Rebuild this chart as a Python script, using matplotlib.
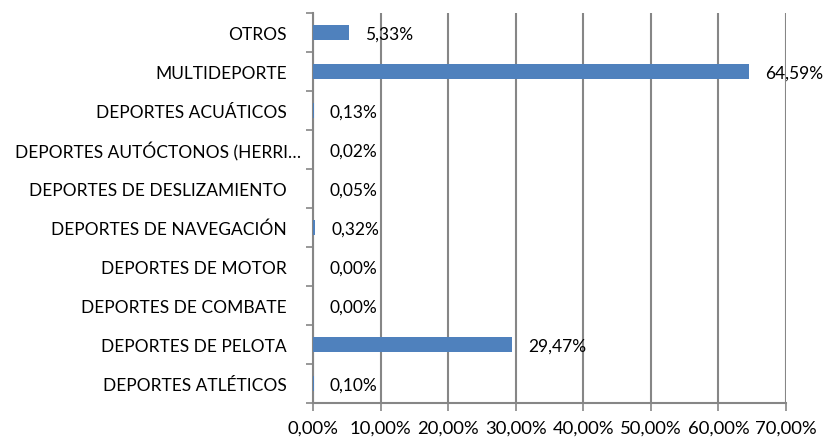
import matplotlib
matplotlib.use("Agg")
import matplotlib.pyplot as plt
import matplotlib.transforms as mtransforms
import numpy as np

categories = [
    "DEPORTES ATLÉTICOS",
    "DEPORTES DE PELOTA",
    "DEPORTES DE COMBATE",
    "DEPORTES DE MOTOR",
    "DEPORTES DE NAVEGACIÓN",
    "DEPORTES DE DESLIZAMIENTO",
    "DEPORTES AUTÓCTONOS (HERRI…",
    "DEPORTES ACUÁTICOS",
    "MULTIDEPORTE",
    "OTROS",
]
values = [0.10, 29.47, 0.00, 0.00, 0.32, 0.05, 0.02, 0.13, 64.59, 5.33]
xticks = [0, 10, 20, 30, 40, 50, 60, 70]

FONT = "Lato"
FS = 12.5
GRID = "#868686"

fig = plt.figure(figsize=(8.3, 4.39), dpi=100)
ax = fig.add_axes([313/830, 1-404/439, (786-313)/830, (404-14)/439])

y = np.arange(len(categories))
ax.barh(y, values, height=0.4, color="#4F81BD", zorder=3)

ax.set_xlim(0, 70)
ax.set_ylim(-0.5, len(categories)-0.5)
ax.set_xticks(xticks)
ax.set_xticklabels([f"{v:.2f}%".replace(".", ",") for v in xticks],
                   fontfamily=FONT, fontsize=13.3)
ax.set_yticks(y)
ax.set_yticklabels(categories, fontfamily=FONT, fontsize=FS)
ax.set_yticks(np.arange(len(categories)+1) - 0.5, minor=True)
ax.tick_params(axis="y", which="major", length=0, pad=19)
ax.tick_params(axis="y", which="minor", length=5, width=1.2, color=GRID)
ax.tick_params(axis="x", length=6, width=1.2, color=GRID, pad=6)

ax.grid(axis="x", color=GRID, linewidth=1.5, zorder=0)
for s in ["top", "right"]:
    ax.spines[s].set_visible(False)
for s in ["left", "bottom"]:
    ax.spines[s].set_color(GRID)
    ax.spines[s].set_linewidth(1.5)

# the truncated label sits closer to the axis in the reference
lbl = ax.get_yticklabels()[6]
lbl.set_transform(lbl.get_transform() +
                  mtransforms.ScaledTranslation(14/100, 0, fig.dpi_scale_trans))

for yi, v in zip(y, values):
    ax.annotate(f"{v:.2f}%".replace(".", ","), xy=(v, yi), xytext=(16, -1),
                textcoords="offset pixels", ha="left", va="center",
                fontfamily=FONT, fontsize=FS, color="black", annotation_clip=False)

fig.savefig("out.png", dpi=100)
